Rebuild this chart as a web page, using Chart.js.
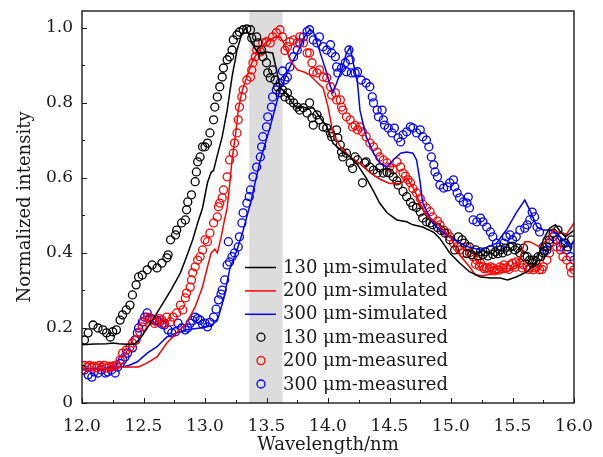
<!DOCTYPE html>
<html>
<head>
<meta charset="utf-8">
<script src="https://cdn.jsdelivr.net/npm/chart.js@4.4.0/dist/chart.umd.min.js"></script>
<style>
  html, body { margin: 0; padding: 0; background: #fff; }
  #wrap { width: 603px; height: 457px; }
</style>
</head>
<body>
<div id="wrap"><canvas id="chart" width="603" height="457"></canvas></div>
<script>
// tick labels and the shaded wavelength window
const xTicks = [12.0, 12.5, 13.0, 13.5, 14.0, 14.5, 15.0, 15.5, 16.0];
const yTicks = [0, 0.2, 0.4, 0.6, 0.8, 1.0];
const bandRange = [13.36, 13.63];
const seriesNames = ['130 μm-simulated', '200 μm-simulated', '300 μm-simulated',
                     '130 μm-measured', '200 μm-measured', '300 μm-measured'];

// simulated spectra [wavelength, intensity]
const sim130 = [[12.0,0.155],[12.1,0.157],[12.2,0.158],[12.25,0.16],[12.3,0.158],[12.4,0.156],[12.43,0.158],
  [12.48,0.175],[12.53,0.2],[12.6,0.235],[12.66,0.267],[12.73,0.305],[12.8,0.347],[12.85,0.39],[12.9,0.435],
  [12.94,0.48],[12.98,0.52],[13.02,0.587],[13.05,0.615],[13.07,0.62],[13.1,0.66],[13.14,0.71],[13.18,0.78],
  [13.22,0.87],[13.26,0.94],[13.3,0.985],[13.33,1.0],[13.36,0.98],[13.38,0.96],[13.43,0.933],[13.5,0.936],
  [13.55,0.933],[13.58,0.89],[13.61,0.84],[13.65,0.83],[13.7,0.805],[13.75,0.785],[13.79,0.79],[13.83,0.785],
  [13.88,0.787],[13.93,0.763],[13.99,0.737],[14.04,0.693],[14.1,0.675],[14.18,0.656],[14.23,0.64],[14.31,0.6],
  [14.37,0.565],[14.42,0.533],[14.48,0.507],[14.56,0.488],[14.64,0.483],[14.69,0.475],[14.77,0.469],[14.86,0.455],
  [14.91,0.438],[14.99,0.4],[15.07,0.373],[15.15,0.35],[15.24,0.336],[15.32,0.333],[15.4,0.333],[15.46,0.328],
  [15.53,0.336],[15.62,0.35],[15.7,0.38],[15.75,0.435],[15.8,0.466],[15.85,0.475],[15.89,0.456],[15.93,0.443],
  [15.97,0.453],[16.0,0.46]];

const sim200 = [[12.0,0.088],[12.1,0.09],[12.2,0.092],[12.3,0.095],[12.4,0.096],[12.46,0.096],[12.53,0.107],
  [12.61,0.123],[12.69,0.16],[12.77,0.187],[12.85,0.213],[12.92,0.256],[12.98,0.31],[13.02,0.363],[13.05,0.4],
  [13.08,0.41],[13.1,0.4],[13.13,0.44],[13.16,0.49],[13.18,0.52],[13.2,0.58],[13.22,0.648],[13.25,0.72],
  [13.27,0.78],[13.3,0.83],[13.34,0.87],[13.39,0.915],[13.46,0.95],[13.5,0.962],[13.55,0.973],[13.61,0.976],
  [13.65,0.955],[13.69,0.915],[13.75,0.888],[13.8,0.883],[13.85,0.875],[13.91,0.855],[13.96,0.84],[14.0,0.79],
  [14.04,0.72],[14.1,0.683],[14.18,0.656],[14.26,0.638],[14.34,0.615],[14.42,0.597],[14.5,0.585],[14.59,0.585],
  [14.64,0.6],[14.7,0.57],[14.75,0.53],[14.8,0.5],[14.9,0.475],[15.0,0.44],[15.07,0.395],[15.15,0.363],
  [15.2,0.341],[15.26,0.339],[15.37,0.347],[15.45,0.35],[15.53,0.36],[15.56,0.386],[15.6,0.43],[15.64,0.43],
  [15.72,0.416],[15.78,0.435],[15.83,0.461],[15.89,0.453],[15.94,0.45],[16.0,0.48]];

const sim300 = [[12.0,0.09],[12.1,0.09],[12.2,0.092],[12.3,0.095],[12.38,0.1],[12.45,0.11],[12.53,0.133],
  [12.61,0.15],[12.69,0.176],[12.77,0.187],[12.85,0.195],[12.96,0.2],[13.04,0.205],[13.1,0.22],[13.15,0.275],
  [13.2,0.355],[13.26,0.408],[13.31,0.46],[13.37,0.533],[13.45,0.648],[13.53,0.736],[13.61,0.835],[13.69,0.896],
  [13.76,0.94],[13.81,0.976],[13.85,0.995],[13.88,0.99],[13.93,0.94],[13.99,0.88],[14.02,0.843],[14.04,0.827],
  [14.07,0.853],[14.11,0.888],[14.15,0.933],[14.18,0.949],[14.2,0.915],[14.24,0.853],[14.26,0.78],[14.31,0.71],
  [14.37,0.666],[14.42,0.64],[14.48,0.629],[14.53,0.648],[14.59,0.666],[14.64,0.669],[14.69,0.666],[14.72,0.648],
  [14.75,0.587],[14.77,0.533],[14.85,0.48],[14.91,0.461],[15.0,0.44],[15.07,0.426],[15.15,0.415],[15.24,0.408],
  [15.37,0.426],[15.45,0.461],[15.53,0.507],[15.6,0.541],[15.64,0.515],[15.7,0.469],[15.75,0.461],[15.8,0.461],
  [15.86,0.453],[15.91,0.435],[15.97,0.416],[16.0,0.435]];

// measured spectra [wavelength, intensity]
const meas130 = [[12.02,0.168],[12.05,0.187],[12.09,0.208],[12.13,0.2],[12.17,0.195],[12.2,0.187],[12.23,0.176],
  [12.25,0.19],[12.28,0.195],[12.31,0.221],[12.33,0.235],[12.36,0.248],[12.39,0.261],[12.41,0.288],[12.44,0.315],
  [12.46,0.336],[12.49,0.341],[12.53,0.355],[12.57,0.368],[12.61,0.36],[12.65,0.373],[12.69,0.387],[12.7,0.395],
  [12.72,0.435],[12.76,0.448],[12.77,0.461],[12.81,0.48],[12.84,0.488],[12.85,0.515],[12.86,0.536],[12.89,0.555],
  [12.92,0.59],[12.93,0.616],[12.94,0.643],[12.96,0.656],[12.98,0.683],[13.0,0.683],[13.02,0.693],[13.04,0.72],
  [13.07,0.755],[13.08,0.789],[13.1,0.816],[13.12,0.843],[13.14,0.869],[13.15,0.893],[13.18,0.915],[13.2,0.923],
  [13.22,0.941],[13.23,0.968],[13.26,0.981],[13.28,0.989],[13.31,0.995],[13.34,0.997],[13.37,0.995],[13.38,0.973],
  [13.42,0.976],[13.43,0.96],[13.46,0.941],[13.47,0.923],[13.5,0.907],[13.51,0.88],[13.53,0.867],[13.55,0.888],
  [13.57,0.861],[13.59,0.843],[13.61,0.827],[13.63,0.835],[13.65,0.816],[13.67,0.827],[13.69,0.808],[13.72,0.8],
  [13.75,0.789],[13.77,0.781],[13.8,0.787],[13.83,0.773],[13.85,0.8],[13.87,0.76],[13.88,0.741],[13.91,0.768],
  [13.93,0.755],[13.96,0.736],[13.99,0.733],[14.02,0.72],[14.03,0.71],[14.07,0.728],[14.08,0.707],[14.1,0.688],
  [14.11,0.669],[14.12,0.656],[14.15,0.666],[14.18,0.64],[14.2,0.625],[14.22,0.656],[14.24,0.648],[14.28,0.587],
  [14.3,0.64],[14.31,0.643],[14.34,0.629],[14.37,0.621],[14.4,0.613],[14.42,0.627],[14.45,0.613],[14.48,0.615],
  [14.5,0.613],[14.53,0.603],[14.56,0.592],[14.57,0.581],[14.61,0.564],[14.64,0.55],[14.67,0.535],[14.69,0.525],
  [14.72,0.521],[14.75,0.509],[14.77,0.493],[14.8,0.483],[14.83,0.48],[14.85,0.475],[14.89,0.468],[14.92,0.46],
  [14.95,0.453],[14.99,0.435],[15.03,0.408],[15.06,0.443],[15.09,0.435],[15.11,0.426],[15.13,0.398],[15.15,0.416],
  [15.17,0.395],[15.2,0.408],[15.22,0.392],[15.24,0.403],[15.26,0.395],[15.28,0.403],[15.3,0.392],[15.32,0.408],
  [15.34,0.396],[15.36,0.403],[15.38,0.398],[15.4,0.408],[15.42,0.4],[15.44,0.413],[15.46,0.405],[15.48,0.416],
  [15.5,0.418],[15.52,0.408],[15.54,0.413],[15.56,0.4],[15.59,0.413],[15.6,0.39],[15.62,0.39],[15.64,0.381],
  [15.66,0.372],[15.67,0.381],[15.69,0.378],[15.71,0.39],[15.73,0.39],[15.75,0.4],[15.76,0.405],[15.78,0.416],
  [15.8,0.435],[15.83,0.453],[15.87,0.461],[15.9,0.443],[15.93,0.426],[15.95,0.416],[15.98,0.435]];

const meas200 = [[12.0,0.088],[12.02,0.1],[12.04,0.096],[12.06,0.1],[12.08,0.096],[12.1,0.098],[12.12,0.093],
  [12.14,0.1],[12.16,0.096],[12.18,0.1],[12.2,0.093],[12.22,0.098],[12.24,0.096],[12.26,0.099],[12.28,0.101],
  [12.31,0.115],[12.33,0.133],[12.36,0.141],[12.39,0.149],[12.41,0.16],[12.44,0.168],[12.47,0.189],[12.49,0.203],
  [12.5,0.216],[12.53,0.229],[12.55,0.225],[12.57,0.221],[12.59,0.212],[12.61,0.216],[12.63,0.225],[12.65,0.221],
  [12.67,0.213],[12.69,0.229],[12.72,0.216],[12.74,0.229],[12.77,0.24],[12.8,0.261],[12.82,0.248],[12.84,0.28],
  [12.85,0.293],[12.88,0.309],[12.89,0.328],[12.9,0.347],[12.92,0.363],[12.94,0.381],[12.96,0.39],[12.98,0.408],
  [13.0,0.435],[13.02,0.43],[13.04,0.453],[13.07,0.48],[13.1,0.496],[13.11,0.523],[13.12,0.533],[13.14,0.547],
  [13.15,0.568],[13.18,0.603],[13.2,0.648],[13.23,0.666],[13.24,0.693],[13.26,0.72],[13.27,0.755],[13.28,0.789],
  [13.3,0.816],[13.31,0.835],[13.34,0.861],[13.37,0.869],[13.38,0.888],[13.39,0.907],[13.41,0.923],[13.42,0.941],
  [13.45,0.936],[13.47,0.96],[13.5,0.963],[13.53,0.96],[13.55,0.976],[13.58,0.987],[13.61,0.995],[13.63,0.976],
  [13.65,0.94],[13.67,0.95],[13.69,0.963],[13.72,0.968],[13.75,0.96],[13.77,0.976],[13.8,0.96],[13.83,0.933],
  [13.85,0.933],[13.87,0.907],[13.88,0.883],[13.91,0.88],[13.93,0.888],[13.96,0.869],[13.99,0.867],[14.02,0.843],
  [14.03,0.821],[14.06,0.827],[14.07,0.808],[14.1,0.808],[14.11,0.789],[14.12,0.781],[14.15,0.763],[14.18,0.755],
  [14.2,0.736],[14.22,0.74],[14.24,0.728],[14.26,0.736],[14.28,0.723],[14.31,0.71],[14.34,0.693],[14.37,0.683],
  [14.4,0.669],[14.42,0.656],[14.45,0.648],[14.48,0.64],[14.5,0.629],[14.53,0.621],[14.56,0.643],[14.59,0.629],
  [14.61,0.613],[14.63,0.605],[14.65,0.595],[14.67,0.587],[14.69,0.572],[14.72,0.56],[14.75,0.545],[14.77,0.53],
  [14.8,0.52],[14.83,0.51],[14.85,0.496],[14.89,0.485],[14.91,0.475],[14.94,0.461],[14.97,0.453],[14.99,0.443],
  [15.02,0.426],[15.05,0.416],[15.07,0.408],[15.1,0.4],[15.13,0.416],[15.15,0.4],[15.18,0.39],[15.2,0.37],
  [15.21,0.381],[15.23,0.365],[15.24,0.373],[15.26,0.363],[15.27,0.358],[15.29,0.36],[15.31,0.357],[15.32,0.363],
  [15.34,0.36],[15.35,0.352],[15.37,0.355],[15.39,0.354],[15.4,0.363],[15.42,0.358],[15.43,0.368],[15.45,0.36],
  [15.47,0.356],[15.48,0.368],[15.5,0.373],[15.52,0.362],[15.53,0.376],[15.56,0.373],[15.58,0.36],[15.59,0.368],
  [15.62,0.363],[15.63,0.356],[15.64,0.36],[15.67,0.355],[15.68,0.36],[15.7,0.363],[15.72,0.355],[15.74,0.356],
  [15.75,0.363],[15.78,0.381],[15.8,0.4],[15.83,0.43],[15.86,0.416],[15.89,0.408],[15.91,0.39],[15.94,0.381],
  [15.97,0.363],[15.98,0.347],[16.0,0.355]];

const meas300 = [[12.0,0.088],[12.02,0.088],[12.05,0.075],[12.08,0.069],[12.1,0.083],[12.13,0.08],[12.16,0.088],
  [12.19,0.08],[12.21,0.083],[12.24,0.088],[12.27,0.08],[12.29,0.096],[12.31,0.105],[12.33,0.115],[12.35,0.123],
  [12.37,0.133],[12.41,0.147],[12.43,0.168],[12.45,0.187],[12.46,0.2],[12.49,0.216],[12.51,0.229],[12.53,0.24],
  [12.55,0.227],[12.57,0.224],[12.59,0.221],[12.61,0.22],[12.63,0.216],[12.65,0.21],[12.67,0.208],[12.7,0.195],
  [12.73,0.187],[12.76,0.19],[12.78,0.213],[12.81,0.2],[12.84,0.195],[12.86,0.2],[12.88,0.213],[12.9,0.22],
  [12.92,0.229],[12.94,0.225],[12.96,0.221],[12.98,0.21],[13.0,0.213],[13.02,0.203],[13.04,0.215],[13.07,0.229],
  [13.09,0.25],[13.11,0.275],[13.13,0.29],[13.14,0.301],[13.16,0.328],[13.18,0.368],[13.19,0.43],[13.2,0.376],
  [13.22,0.39],[13.24,0.4],[13.27,0.416],[13.28,0.443],[13.3,0.48],[13.31,0.507],[13.34,0.533],[13.36,0.55],
  [13.37,0.568],[13.39,0.603],[13.42,0.629],[13.45,0.656],[13.46,0.683],[13.47,0.71],[13.5,0.736],[13.51,0.763],
  [13.54,0.789],[13.55,0.816],[13.58,0.835],[13.61,0.853],[13.63,0.885],[13.65,0.861],[13.67,0.869],[13.69,0.896],
  [13.72,0.923],[13.75,0.941],[13.77,0.96],[13.8,0.976],[13.83,0.99],[13.85,0.995],[13.88,0.968],[13.91,0.96],
  [13.93,0.976],[13.96,0.95],[13.99,0.941],[14.02,0.955],[14.03,0.933],[14.06,0.923],[14.07,0.896],[14.08,0.88],
  [14.11,0.893],[14.14,0.907],[14.15,0.883],[14.17,0.941],[14.18,0.915],[14.19,0.88],[14.22,0.88],[14.24,0.883],
  [14.27,0.861],[14.31,0.853],[14.34,0.843],[14.36,0.816],[14.37,0.8],[14.4,0.781],[14.41,0.763],[14.44,0.781],
  [14.45,0.755],[14.46,0.741],[14.49,0.733],[14.52,0.72],[14.54,0.733],[14.57,0.707],[14.59,0.696],[14.61,0.715],
  [14.64,0.723],[14.67,0.736],[14.69,0.733],[14.72,0.72],[14.75,0.728],[14.77,0.71],[14.8,0.701],[14.82,0.683],
  [14.84,0.656],[14.86,0.635],[14.87,0.616],[14.89,0.603],[14.91,0.581],[14.94,0.573],[14.97,0.576],[14.99,0.587],
  [15.02,0.595],[15.03,0.576],[15.05,0.56],[15.07,0.547],[15.1,0.536],[15.13,0.533],[15.14,0.549],[15.15,0.52],
  [15.18,0.488],[15.21,0.483],[15.24,0.493],[15.26,0.483],[15.29,0.469],[15.32,0.456],[15.34,0.443],[15.37,0.426],
  [15.4,0.416],[15.43,0.426],[15.45,0.443],[15.48,0.448],[15.5,0.435],[15.53,0.443],[15.56,0.461],[15.6,0.466],
  [15.62,0.475],[15.64,0.488],[15.66,0.509],[15.68,0.496],[15.7,0.469],[15.72,0.456],[15.75,0.416],[15.78,0.408],
  [15.8,0.426],[15.83,0.443],[15.86,0.435],[15.89,0.416],[15.91,0.426],[15.94,0.408],[15.97,0.39],[16.0,0.381]];

const FONT = '"DejaVu Serif", serif';
const INK = '#1a1a1a';
const colors = ['#000000', '#ff0000', '#0000ff'];

const toPoints = (arr) => arr.map(([x, y]) => ({x, y}));

const lineSet = (label, arr, color) => ({
  label, data: toPoints(arr), showLine: true, borderColor: color, backgroundColor: color,
  borderWidth: 1.5, pointRadius: 0, tension: 0
});

const dotSet = (label, arr, color) => ({
  label, data: toPoints(arr), showLine: false, borderColor: color, backgroundColor: 'rgba(0,0,0,0)',
  borderWidth: 1.3, pointRadius: 4, pointStyle: 'circle'
});

// drop the label overhang padding so the plot box sits where the reference has it
const noOverhang = (s) => {
  s.paddingTop = 0; s.paddingBottom = 0; s.paddingLeft = 0; s.paddingRight = 0;
};

// grey window behind the data
const bandPlugin = {
  id: 'band',
  beforeDatasetsDraw(chart) {
    const {ctx, chartArea, scales: {x}} = chart;
    const x0 = x.getPixelForValue(bandRange[0]);
    const x1 = x.getPixelForValue(bandRange[1]);
    ctx.save();
    ctx.fillStyle = '#dcdcdc';
    ctx.fillRect(x0, chartArea.top, x1 - x0, chartArea.bottom - chartArea.top);
    ctx.restore();
  }
};

// box frame with inward major/minor ticks
const framePlugin = {
  id: 'frame',
  afterDatasetsDraw(chart) {
    const {ctx, chartArea: a, scales: {x, y}} = chart;
    ctx.save();
    ctx.strokeStyle = INK;
    ctx.lineWidth = 1;
    ctx.beginPath();
    for (let i = 0; i < xTicks.length; i++) {
      const px = Math.round(x.getPixelForValue(xTicks[i])) + 0.5;
      ctx.moveTo(px, a.bottom); ctx.lineTo(px, a.bottom - 5);
      if (i < xTicks.length - 1) {
        const mx = Math.round(x.getPixelForValue((xTicks[i] + xTicks[i + 1]) / 2)) + 0.5;
        ctx.moveTo(mx, a.bottom); ctx.lineTo(mx, a.bottom - 3);
      }
    }
    for (let i = 0; i < yTicks.length; i++) {
      const py = Math.round(y.getPixelForValue(yTicks[i])) + 0.5;
      ctx.moveTo(a.left, py); ctx.lineTo(a.left + 5, py);
      const my = Math.round(y.getPixelForValue(yTicks[i] + 0.1)) + 0.5;
      if (my > a.top) { ctx.moveTo(a.left, my); ctx.lineTo(a.left + 3, my); }
    }
    ctx.stroke();
    ctx.lineWidth = 1.4;
    ctx.strokeRect(a.left, a.top, a.right - a.left, a.bottom - a.top);
    ctx.restore();
  }
};

// legend placed inside the plot
const legendPlugin = {
  id: 'insideLegend',
  afterDraw(chart) {
    const {ctx, chartArea: a} = chart;
    const left = a.left + 163, top = a.top + 256, step = 23.4;
    ctx.save();
    ctx.font = '18px ' + FONT;
    ctx.textBaseline = 'middle';
    chart.data.datasets.forEach((ds, i) => {
      const cy = top + i * step;
      ctx.strokeStyle = ds.borderColor;
      if (ds.showLine) {
        ctx.lineWidth = 1.5;
        ctx.beginPath();
        ctx.moveTo(left, cy + 0.5); ctx.lineTo(left + 31, cy + 0.5);
        ctx.stroke();
      } else {
        ctx.lineWidth = 1.3;
        ctx.beginPath();
        ctx.arc(left + 16, cy, 4, 0, Math.PI * 2);
        ctx.stroke();
      }
      ctx.fillStyle = INK;
      ctx.fillText(ds.label, left + 38, cy + 1);
    });
    ctx.restore();
  }
};

const datasets = [
  lineSet(seriesNames[0], sim130, colors[0]),
  lineSet(seriesNames[1], sim200, colors[1]),
  lineSet(seriesNames[2], sim300, colors[2]),
  dotSet(seriesNames[3], meas130, colors[0]),
  dotSet(seriesNames[4], meas200, colors[1]),
  dotSet(seriesNames[5], meas300, colors[2])
];

new Chart(document.getElementById('chart'), {
  type: 'scatter',
  data: { datasets },
  plugins: [bandPlugin, framePlugin, legendPlugin],
  options: {
    responsive: false,
    animation: false,
    devicePixelRatio: 1,
    layout: { padding: { top: 11, right: 29, left: 0, bottom: 0 } },
    plugins: { legend: { display: false }, tooltip: { enabled: false } },
    scales: {
      x: {
        type: 'linear', min: 12, max: 16,
        afterBuildTicks: (s) => { s.ticks = xTicks.map(v => ({value: v})); },
        afterFit: (s) => { s.height = 54; noOverhang(s); },
        grid: { display: false, drawTicks: false },
        border: { display: false },
        ticks: { color: INK, padding: 13, maxRotation: 0, font: { family: FONT, size: 17 },
                 callback: (v) => Number(v).toFixed(1) },
        title: { display: true, text: 'Wavelength/nm', color: INK,
                 font: { family: FONT, size: 18 }, padding: { top: 0, bottom: 1 } }
      },
      y: {
        type: 'linear', min: 0, max: 1.045,
        afterBuildTicks: (s) => { s.ticks = yTicks.map(v => ({value: v})); },
        afterFit: (s) => { s.width = 82; noOverhang(s); },
        grid: { display: false, drawTicks: false },
        border: { display: false },
        ticks: { color: INK, padding: 9, font: { family: FONT, size: 17 },
                 callback: (v) => v === 0 ? '0' : Number(v).toFixed(1) },
        title: { display: true, text: 'Normalized intensity', color: INK,
                 font: { family: FONT, size: 18 }, padding: { top: 15, bottom: 0 } }
      }
    }
  }
});
</script>
</body>
</html>
